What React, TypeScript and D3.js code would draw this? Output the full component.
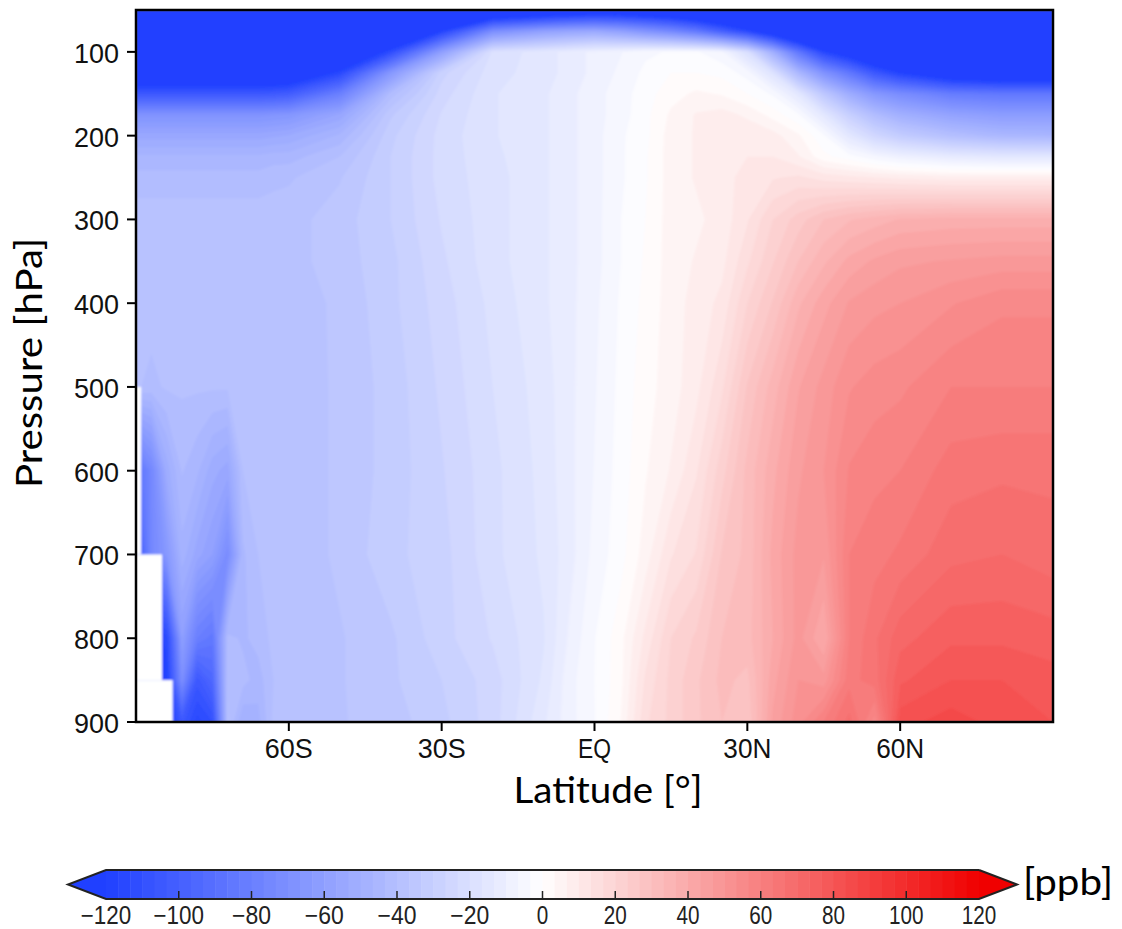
import React from "react";
import * as d3 from "d3";

const width = 1122;
const height = 929;
const plot = { left: 136, right: 1053, top: 10, bottom: 722 };
const bar = { left: 106, right: 979, top: 870, bottom: 899, tip: 38 };

// latitude columns of the grid (finer over Antarctica)
const lats = [-90, -87, -84, -81, -78, -75, -72, -69, -66, -63, -60, -50, -40, -30, -20, -10, -5, 0, 5, 10, 15, 20, 25, 30, 35, 40, 45, 50, 55, 60, 70, 80, 90];
const levels = [50, 75, 100, 125, 150, 175, 200, 225, 250, 300, 350, 400, 500, 600, 700, 800, 850, 900];

// ppb differences, one row per pressure level
const p50 = [-170, -170, -170, -170, -170, -170, -170, -170, -170, -170, -170, -170, -170, -165, -150, -142, -138, -135, -135, -138, -142, -150, -160, -170, -175, -180, -180, -180, -180, -180, -180, -180, -180];
const p75 = [-170, -170, -170, -170, -170, -170, -170, -170, -170, -170, -170, -170, -160, -118, -72, -60, -57, -55, -60, -68, -75, -85, -100, -115, -135, -155, -170, -170, -170, -170, -170, -170, -170];
const p100 = [-160, -160, -160, -160, -160, -160, -160, -160, -160, -160, -160, -150, -112, -60, -19, -15, -12, -9, -7, -4, -3, -3, -6, -20, -50, -85, -115, -130, -145, -155, -160, -160, -160];
const p125 = [-140, -140, -140, -140, -140, -140, -140, -140, -140, -140, -138, -115, -65, -28, -18, -15, -12, -9, -6, -2.5, 0, 0, -1, -5, -18, -45, -68, -85, -105, -118, -135, -140, -140];
const p150 = [-105, -105, -105, -105, -105, -105, -105, -105, -105, -104, -102, -80, -42, -25, -17, -14, -11, -8, -5, -1.5, 2, 4, 3, 0, -4, -15, -35, -52, -65, -72, -82, -85, -85];
const p175 = [-68, -68, -68, -68, -68, -68, -68, -68, -68, -67, -66, -56, -34, -23, -17, -14, -11, -8, -5, -1, 4, 7, 8, 6, 2, -3, -15, -30, -42, -50, -58, -62, -62];
const p200 = [-55, -55, -55, -55, -55, -55, -55, -55, -55, -54, -53, -46, -31, -22, -17, -14, -11, -8, -4, -1, 5, 7, 8, 9, 8, 4, -3, -15, -25, -32, -40, -45, -46];
const p225 = [-46, -46, -46, -46, -46, -46, -46, -46, -46, -45, -45, -40, -30, -22, -17.5, -14, -11, -8, -4, -0.5, 5, 7, 9, 10, 10, 7, 1, -2, -6, -9, -13, -15, -15];
const p250 = [-42, -42, -42, -42, -42, -42, -42, -42, -42, -41, -40.5, -37, -30, -22, -18, -14, -11, -8, -4, -0.5, 5, 7, 9, 11, 13, 14, 12, 11, 10, 9, 8, 8, 8];
const p300 = [-38, -38, -38, -38, -38, -38, -38, -38, -38, -38, -38, -35, -30, -23, -18, -14, -11, -8, -3.5, 0, 5, 6, 8, 13, 20, 25, 30, 33, 35, 37, 38, 38, 38];
const p350 = [-38, -38, -38, -38, -38, -38, -38, -38, -38, -38, -38, -35, -31, -24, -18, -14, -11, -8, -3.5, 0.5, 5, 7, 9, 16, 23, 30, 36, 41, 44, 46, 47, 48, 48];
const p400 = [-38.5, -38.5, -38.5, -38.5, -38.5, -38.5, -38.5, -38.5, -38.5, -38.5, -38.5, -36, -31, -25, -19, -14, -11, -7.5, -3, 1, 5, 8, 11, 20, 27, 36, 42, 47, 49, 50, 53, 56, 56];
const p500 = [-39.5, -41, -39.5, -39.5, -39.5, -39.5, -39.5, -39.5, -39.5, -39.5, -39, -36, -32, -26, -20, -15, -11, -7, -2.5, 2, 5, 9, 16, 27, 35, 43, 48, 53, 55, 56, 60, 60, 60];
const p600 = [-90, -75, -52, -43, -46, -52, -55, -40, -39, -39, -39, -36, -32, -27, -21, -15.5, -11, -6.5, -2, 3, 7, 13, 22, 31, 39, 46, 50, 57, 59, 60, 65, 66, 66];
const p700 = [-110, -75, -65, -48, -55, -60, -72, -44, -40, -39, -39, -36, -31, -28, -21, -16, -11.5, -5.5, -1.5, 5, 13, 17, 27, 31, 41, 48, 47, 60, 62, 64, 69, 70, 68];
const p800 = [-120, -120, -115, -60, -80, -85, -42, -44, -42, -39, -39, -37, -34, -28, -23, -17, -9.5, -3.5, 2, 11, 20, 24, 30, 32, 40, 48, 40, 60, 66, 72, 76, 76, 75];
const p850 = [-120, -120, -120, -70, -105, -95, -40, -42, -45, -40, -39, -37, -34, -30, -25, -16, -8, -3.3, 2, 14, 21, 26, 31, 29, 42, 50, 48, 62, 65, 76, 80, 80, 78];
const p900 = [-120, -120, -125, -105, -115, -110, -39, -50, -48, -39, -38, -37, -35, -31, -25, -14, -8, -3.5, 3, 16, 21, 26, 30, 27, 44, 52, 60, 68, 55, 82, 85, 82, 80];
const rows = [p50, p75, p100, p125, p150, p175, p200, p225, p250, p300, p350, p400, p500, p600, p700, p800, p850, p900];

// no data below ground at the south pole: [pressure top, pressure bottom, lat limit]
const missing = [
  [500, 700, -89],
  [700, 850, -84.9],
  [850, 900, -82.8],
];

const pressureTicks = [100, 200, 300, 400, 500, 600, 700, 800, 900];
const latTicks = [-60, -30, 0, 30, 60];
const latLabels = ["60S", "30S", "EQ", "30N", "60N"];
const barTicks = [-120, -100, -80, -60, -40, -20, 0, 20, 40, 60, 80, 100, 120];

const x = d3.scaleLinear().domain([-90, 90]).range([plot.left, plot.right]);
const y = d3.scaleLinear().domain([50, 900]).range([plot.top, plot.bottom]);
const barX = d3.scaleLinear().domain([-120, 120]).range([bar.left, bar.right]);
const color = d3.scaleLinear<string>().domain([-120, 0, 120]).range(["#2040ff", "#ffffff", "#f00000"]);

const step = 10 / 3;
const edges = d3.range(72).map((i) => -120 + i * step);
const bandColor = (t: number) => color(t + step / 2);

// contour coordinates are in cell units, grid nodes sit at i + 0.5
const nodeScale = (vals: number[]) =>
  d3.scaleLinear()
    .domain([0, ...vals.map((_, i) => i + 0.5), vals.length])
    .range([vals[0], ...vals, vals[vals.length - 1]]);
const colToLat = nodeScale(lats);
const rowToP = nodeScale(levels);

const contours = d3.contours().size([lats.length, levels.length]).thresholds(edges)(rows.flat());
const path = d3.geoPath(
  d3.geoTransform({
    point(px: number, py: number) {
      this.stream.point(x(colToLat(px)), y(rowToP(py)));
    },
  })
);

const tickFont = "'Liberation Sans', Arial, sans-serif";
const titleFont = "Lato, 'Open Sans', sans-serif";

export default function App() {
  const digits = (v: number) => String(Math.abs(v)).length;
  const midY = (bar.top + bar.bottom) / 2;
  return (
    <svg width={width} height={height} style={{ position: "absolute", left: 0, top: 0, background: "#fff" }}>
      <defs>
        <filter id="soft" x="0" y="0" width="100%" height="100%">
          <feGaussianBlur stdDeviation={0.8} />
        </filter>
      </defs>
      <g filter="url(#soft)">
        <rect x={plot.left} y={plot.top} width={plot.right - plot.left} height={plot.bottom - plot.top} fill="#2040ff" />
        {contours.map((c, i) => (
          <path key={i} d={path(c as any) || ""} fill={bandColor(c.value)} />
        ))}
        {missing.map(([p0, p1, lat]) => (
          <rect key={p0} x={x(-90)} y={y(p0)} width={x(lat) - x(-90)} height={y(p1) - y(p0)} fill="#fff" />
        ))}
      </g>
      <rect x={plot.left} y={plot.top} width={plot.right - plot.left} height={plot.bottom - plot.top} fill="none" stroke="#000" strokeWidth={2.5} />

      {pressureTicks.map((p) => (
        <g key={p}>
          <line x1={plot.left - 9} x2={plot.left} y1={y(p)} y2={y(p)} stroke="#000" strokeWidth={2} />
          <text x={119} y={y(p) + 11} textAnchor="end" fontFamily={tickFont} fontSize={28} textLength={45} lengthAdjust="spacingAndGlyphs" fill="#111">{p}</text>
        </g>
      ))}
      {latTicks.map((t, i) => (
        <g key={t}>
          <line x1={x(t)} x2={x(t)} y1={plot.bottom} y2={plot.bottom + 9} stroke="#000" strokeWidth={2} />
          <text x={x(t)} y={758} textAnchor="middle" fontFamily={tickFont} fontSize={27} textLength={t === 0 ? 33 : 48} lengthAdjust="spacingAndGlyphs" fill="#111">{latLabels[i]}</text>
        </g>
      ))}

      <text transform="translate(42,363) rotate(-90)" textAnchor="middle" fontFamily={titleFont} fontSize={37} textLength={250} lengthAdjust="spacingAndGlyphs" fill="#000">Pressure [hPa]</text>
      <text x={608} y={803} textAnchor="middle" fontFamily={titleFont} fontSize={37} textLength={189} lengthAdjust="spacingAndGlyphs" fill="#000">Latitude [°]</text>

      {edges.map((t) => (
        <rect key={t} x={barX(t)} y={bar.top} width={barX(t + step) - barX(t) + 0.5} height={bar.bottom - bar.top} fill={bandColor(t)} />
      ))}
      <polygon points={`${bar.left},${bar.top} ${bar.left - bar.tip},${midY} ${bar.left},${bar.bottom}`} fill="#2040ff" />
      <polygon points={`${bar.right},${bar.top} ${bar.right + bar.tip},${midY} ${bar.right},${bar.bottom}`} fill="#f00000" />
      <polyline fill="none" stroke="#222" strokeWidth={2} points={`${bar.right},${bar.top} ${bar.left},${bar.top} ${bar.left - bar.tip},${midY} ${bar.left},${bar.bottom} ${bar.right},${bar.bottom} ${bar.right + bar.tip},${midY} ${bar.right},${bar.top}`} />
      {barTicks.map((t) => (
        <g key={t}>
          {Math.abs(t) < 120 && <line x1={barX(t)} x2={barX(t)} y1={bar.bottom - 8} y2={bar.bottom} stroke="#222" strokeWidth={1.5} />}
          <text x={barX(t)} y={924} textAnchor="middle" fontFamily={tickFont} fontSize={25} textLength={digits(t) * 11.5 + (t < 0 ? 16 : 0)} lengthAdjust="spacingAndGlyphs" fill="#222">{t < 0 ? `\u2212${-t}` : t}</text>
        </g>
      ))}
      <text x={1023} y={895} fontFamily={titleFont} fontSize={37} textLength={90} lengthAdjust="spacingAndGlyphs" fill="#000">[ppb]</text>
    </svg>
  );
}
